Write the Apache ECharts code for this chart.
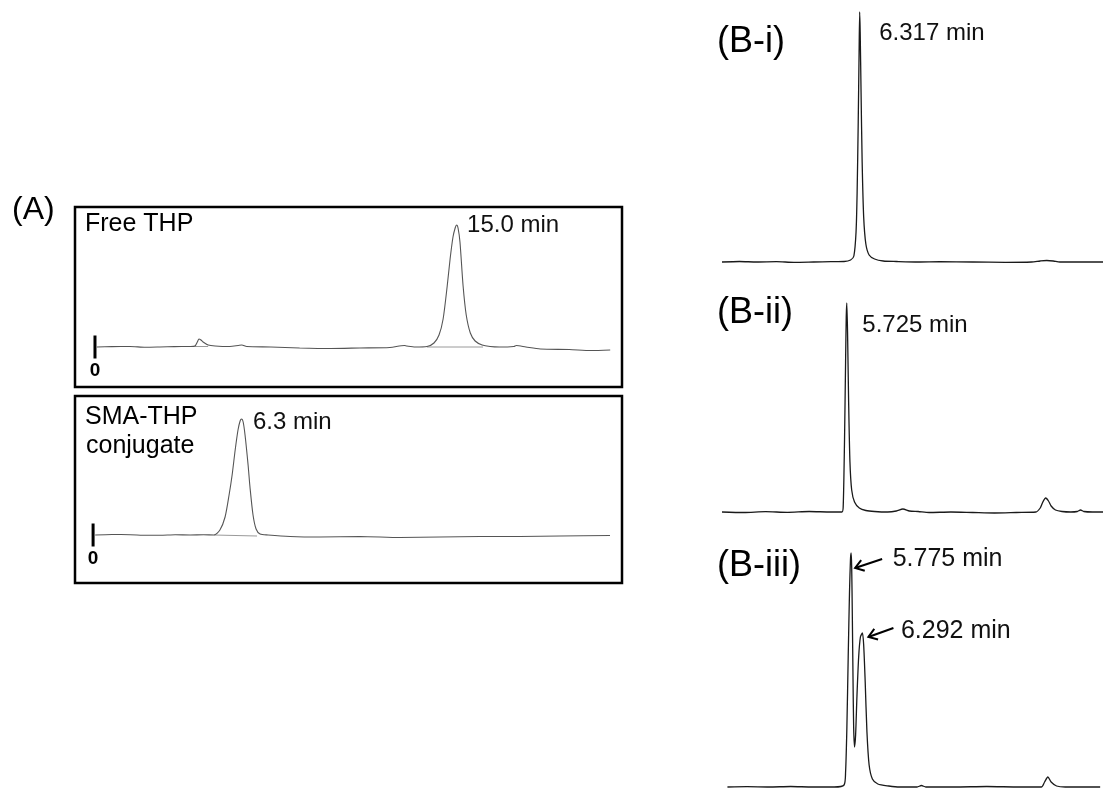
<!DOCTYPE html>
<html><head><meta charset="utf-8">
<script src="https://cdn.jsdelivr.net/npm/echarts@6/dist/echarts.min.js"></script>
<style>html,body{margin:0;padding:0;background:#fff}#c{width:1103px;height:789px}</style>
</head><body><div id="c"></div>
<script>
// ---------- DATA (time in min, signal in arbitrary detector units) ----------
// (A) Free THP
const a1Time   = [0.08,0.70,1.45,2.10,2.70,3.30,3.95,4.15,4.25,4.32,4.40,4.49,4.70,4.99,5.60,5.95,6.10,6.30,7.30,8.50,9.80,11.00,12.25,12.85,12.95,13.30,13.79,14.08,14.29,14.46,14.63,14.75,14.87,14.96,15.02,15.08,15.16,15.29,15.42,15.59,15.79,16.08,16.41,16.80,17.40,17.50,17.90,18.50,19.70,20.60,21.40];
const a1Signal = [0,0.4,0.5,-0.3,0,0.4,0.5,1,5,8,7,5,2,1,0.5,1.5,2,0.5,0,-1,-1.5,-1,-0.5,1.5,1,0,0.5,4,12,28,61,88,110,119,122,119,105,61,32,14,6,2,0.5,0,0.5,1.5,0,-2,-2.5,-3.5,-3];
const a1PeakBase  = [[13.79,0],[16.12,0]];
const a1BumpBase  = [[4.10,0.5],[4.70,0.5]];
// (A) SMA-THP conjugate
const a2Time   = [0.09,0.80,1.58,2.30,2.85,3.50,4.13,4.70,5.15,5.40,5.62,5.79,5.92,6.05,6.17,6.26,6.32,6.39,6.47,6.60,6.68,6.81,6.94,7.11,7.45,8.39,9.66,11.37,13.07,14.77,16.47,18.18,19.88,22.01];
const a2Signal = [0,0.5,0.3,-0.3,-0.3,0.2,0,0.3,0,5,18,40,60,85,105,114,116,113,100,70,48,20,6,1,0,-1.5,-2,-1.5,-2.5,-2,-1.5,-1.5,-1,-0.5];
const a2PeakBase = [[5.15,0],[6.98,-1]];
const injectTime = [0];
// (B-i)
const b1Time   = [0,0.8,1.6,2.5,3.3,4.2,5.0,5.6,5.9,6.05,6.15,6.20,6.25,6.29,6.317,6.34,6.38,6.43,6.50,6.60,6.75,7.00,7.40,8.0,9.0,10.0,11.5,13.0,14.2,14.6,14.9,15.2,15.5,16.5,17.48];
const b1Signal = [0,0.5,0,0.3,-0.3,0,0.3,0.5,2,6,30,70,140,210,250,230,170,100,45,18,7,3,1,0.5,0,0.3,0,-0.3,0,1,1.5,1,0,0,0];
// (B-ii)
const b2Time   = [0,1.0,2.0,3.0,4.0,5.0,5.30,5.50,5.56,5.62,5.67,5.70,5.725,5.76,5.81,5.87,5.95,6.08,6.30,6.60,7.00,7.60,8.00,8.30,8.60,9.0,9.5,10.5,11.5,12.5,13.5,14.4,14.6,14.72,14.85,14.98,15.1,15.3,15.6,16.0,16.3,16.45,16.6,17.0,17.48];
const b2Signal = [0,-0.5,0.3,-0.3,0.5,0,0,0,5,70,150,195,209,180,110,50,22,10,4,1.5,0.5,0,1,3,1,0.5,-0.5,0,-0.5,-1,-0.5,0,4,10,14,11,6,2,0.5,0,0.5,2,0.5,0,0];
// (B-iii)
const b3Time   = [0.1,1.0,2.0,3.0,4.0,5.0,5.45,5.52,5.58,5.64,5.70,5.745,5.775,5.80,5.83,5.86,5.89,5.93,5.98,6.04,6.12,6.20,6.292,6.35,6.42,6.50,6.60,6.75,7.00,7.50,8.00,8.80,9.00,9.20,10.5,12.0,13.5,14.5,14.65,14.8,14.95,15.2,15.6,16.5,17.2];
const b3Signal = [0,0.3,0,0.5,0,0,2,15,60,130,195,228,234,220,170,110,60,40,52,90,130,150,154,142,105,55,22,8,3,1,0,0,1.5,0,0,0.5,0,0,5,10,5,1,0,0,0];
// Text
const panelLabels = ['(A)','(B-i)','(B-ii)','(B-iii)'];
const sampleLabels = ['Free THP','SMA-THP','conjugate'];
const a1PeakTimes = [15.0];
const a2PeakTimes = [6.3];
const b1PeakTimes = [6.317];
const b2PeakTimes = [5.725];
const b3PeakTimes = [5.775, 6.292];

// ---------- HELPERS ----------
const FONT = "'Liberation Sans', Arial, sans-serif";
const zip = (t, v) => t.map((x, i) => [x, v[i]]);
function peakAt(t, v, time) {
  let best = 0;
  t.forEach((x, i) => { if (Math.abs(x - time) < Math.abs(t[best] - time)) best = i; });
  return [t[best], v[best]];
}
function peakMark(t, v, time, digits, offset, size) {
  return {
    coord: peakAt(t, v, time),
    label: {
      show: true, formatter: time.toFixed(digits) + ' min', position: offset,
      fontSize: size, fontFamily: FONT, color: '#111', align: 'left', verticalAlign: 'middle'
    }
  };
}
function trace(idx, data, color, width, marks) {
  return {
    type: 'line', xAxisIndex: idx, yAxisIndex: idx, data: data,
    showSymbol: false, symbol: 'none', smooth: 0.25, silent: true, z: 3,
    lineStyle: { color: color, width: width },
    markPoint: marks ? { symbol: 'circle', symbolSize: 1, itemStyle: { color: 'rgba(0,0,0,0)' }, silent: true, data: marks } : undefined
  };
}
function seg(idx, data) {
  return { type: 'line', xAxisIndex: idx, yAxisIndex: idx, data: data, showSymbol: false, symbol: 'none',
    silent: true, z: 2, lineStyle: { color: '#9a9a9a', width: 1 } };
}
function zeroTick(idx) {
  return { type: 'scatter', xAxisIndex: idx, yAxisIndex: idx, data: injectTime.map(t => [t, 0]),
    symbol: 'rect', symbolSize: [3, 23], itemStyle: { color: '#000', opacity: 1 }, silent: true, z: 4,
    label: { show: true, position: 'bottom', distance: 3, formatter: p => String(p.value[0]),
      fontSize: 19, fontWeight: 'bold', fontFamily: FONT, color: '#000' } };
}

const grids = [
  { left: 75, top: 207, width: 547, height: 180, show: true, borderColor: '#000', borderWidth: 2.5, backgroundColor: 'transparent' },
  { left: 75, top: 396, width: 547, height: 187, show: true, borderColor: '#000', borderWidth: 2.5, backgroundColor: 'transparent' },
  { left: 722, top: 0, width: 381, height: 275 },
  { left: 722, top: 290, width: 381, height: 232 },
  { left: 722, top: 540, width: 381, height: 249 }
].map(g => Object.assign({ outerBoundsMode: 'none', containLabel: false }, g));
const xr = [[-0.83, 21.89], [-0.77, 22.52], [0, 17.48], [0, 17.48], [-0.15, 17.33]];
const yr = [[-40, 140], [-48, 139], [-13, 262], [-10, 222], [-2, 247]];

const option = {
  animation: false,
  backgroundColor: '#fff',
  textStyle: { fontFamily: FONT },
  grid: grids,
  xAxis: xr.map((r, i) => ({ type: 'value', gridIndex: i, min: r[0], max: r[1], show: false })),
  yAxis: yr.map((r, i) => ({ type: 'value', gridIndex: i, min: r[0], max: r[1], show: false })),
  series: [
    trace(0, zip(a1Time, a1Signal), '#555', 1.1, a1PeakTimes.map(t => peakMark(a1Time, a1Signal, t, 1, [11, 1], 24))),
    seg(0, a1PeakBase), seg(0, a1BumpBase), zeroTick(0),
    trace(1, zip(a2Time, a2Signal), '#555', 1.1, a2PeakTimes.map(t => peakMark(a2Time, a2Signal, t, 1, [12, 4], 24))),
    seg(1, a2PeakBase), zeroTick(1),
    trace(2, zip(b1Time, b1Signal), '#1a1a1a', 1.3, b1PeakTimes.map(t => peakMark(b1Time, b1Signal, t, 3, [20, 22], 24))),
    trace(3, zip(b2Time, b2Signal), '#1a1a1a', 1.3, b2PeakTimes.map(t => peakMark(b2Time, b2Signal, t, 3, [16, 23], 24))),
    trace(4, zip(b3Time, b3Signal), '#1a1a1a', 1.3, [
      peakMark(b3Time, b3Signal, b3PeakTimes[0], 3, [42, 7], 25),
      peakMark(b3Time, b3Signal, b3PeakTimes[1], 3, [39, -1], 25)
    ])
  ]
};

const chart = echarts.init(document.getElementById('c'), null, { renderer: 'canvas' });
chart.setOption(option);

// ---------- TEXT + ARROWS (arrows anchored on peaks via the chart's scales) ----------
function txt(s, x, y, size) {
  return { type: 'text', x: x, y: y, silent: true, z: 10,
    style: { text: s, fontSize: size, fontFamily: FONT, fill: '#000', verticalAlign: 'middle', align: 'left' } };
}
function arrow(tip, tail) {
  const dx = tail[0] - tip[0], dy = tail[1] - tip[1];
  const ang = Math.atan2(dy, dx), L = 10, h = 0.6;
  const a1 = [tip[0] + L * Math.cos(ang + h), tip[1] + L * Math.sin(ang + h)];
  const a2 = [tip[0] + L * Math.cos(ang - h), tip[1] + L * Math.sin(ang - h)];
  return [
    { type: 'line', silent: true, z: 10, shape: { x1: tail[0], y1: tail[1], x2: tip[0], y2: tip[1] }, style: { stroke: '#000', lineWidth: 2 } },
    { type: 'polyline', silent: true, z: 10, shape: { points: [a1, tip, a2] }, style: { stroke: '#000', lineWidth: 2, fill: null } }
  ];
}
const p1 = chart.convertToPixel({ gridIndex: 4 }, peakAt(b3Time, b3Signal, b3PeakTimes[0]));
const p2 = chart.convertToPixel({ gridIndex: 4 }, peakAt(b3Time, b3Signal, b3PeakTimes[1]));
const graphics = [
  txt(panelLabels[0], 12, 210, 32),
  txt(panelLabels[1], 717, 42, 36),
  txt(panelLabels[2], 717, 313, 36),
  txt(panelLabels[3], 717, 566, 36),
  txt(sampleLabels[0], 85, 224, 25),
  txt(sampleLabels[1], 85, 417, 25),
  txt(sampleLabels[2], 86, 446, 25)
].concat(
  arrow([p1[0] + 4, p1[1] + 15], [p1[0] + 31, p1[1] + 6]),
  arrow([p2[0] + 6, p2[1] + 4], [p2[0] + 31, p2[1] - 5])
);
chart.setOption({ graphic: graphics });
</script>
</body></html>
